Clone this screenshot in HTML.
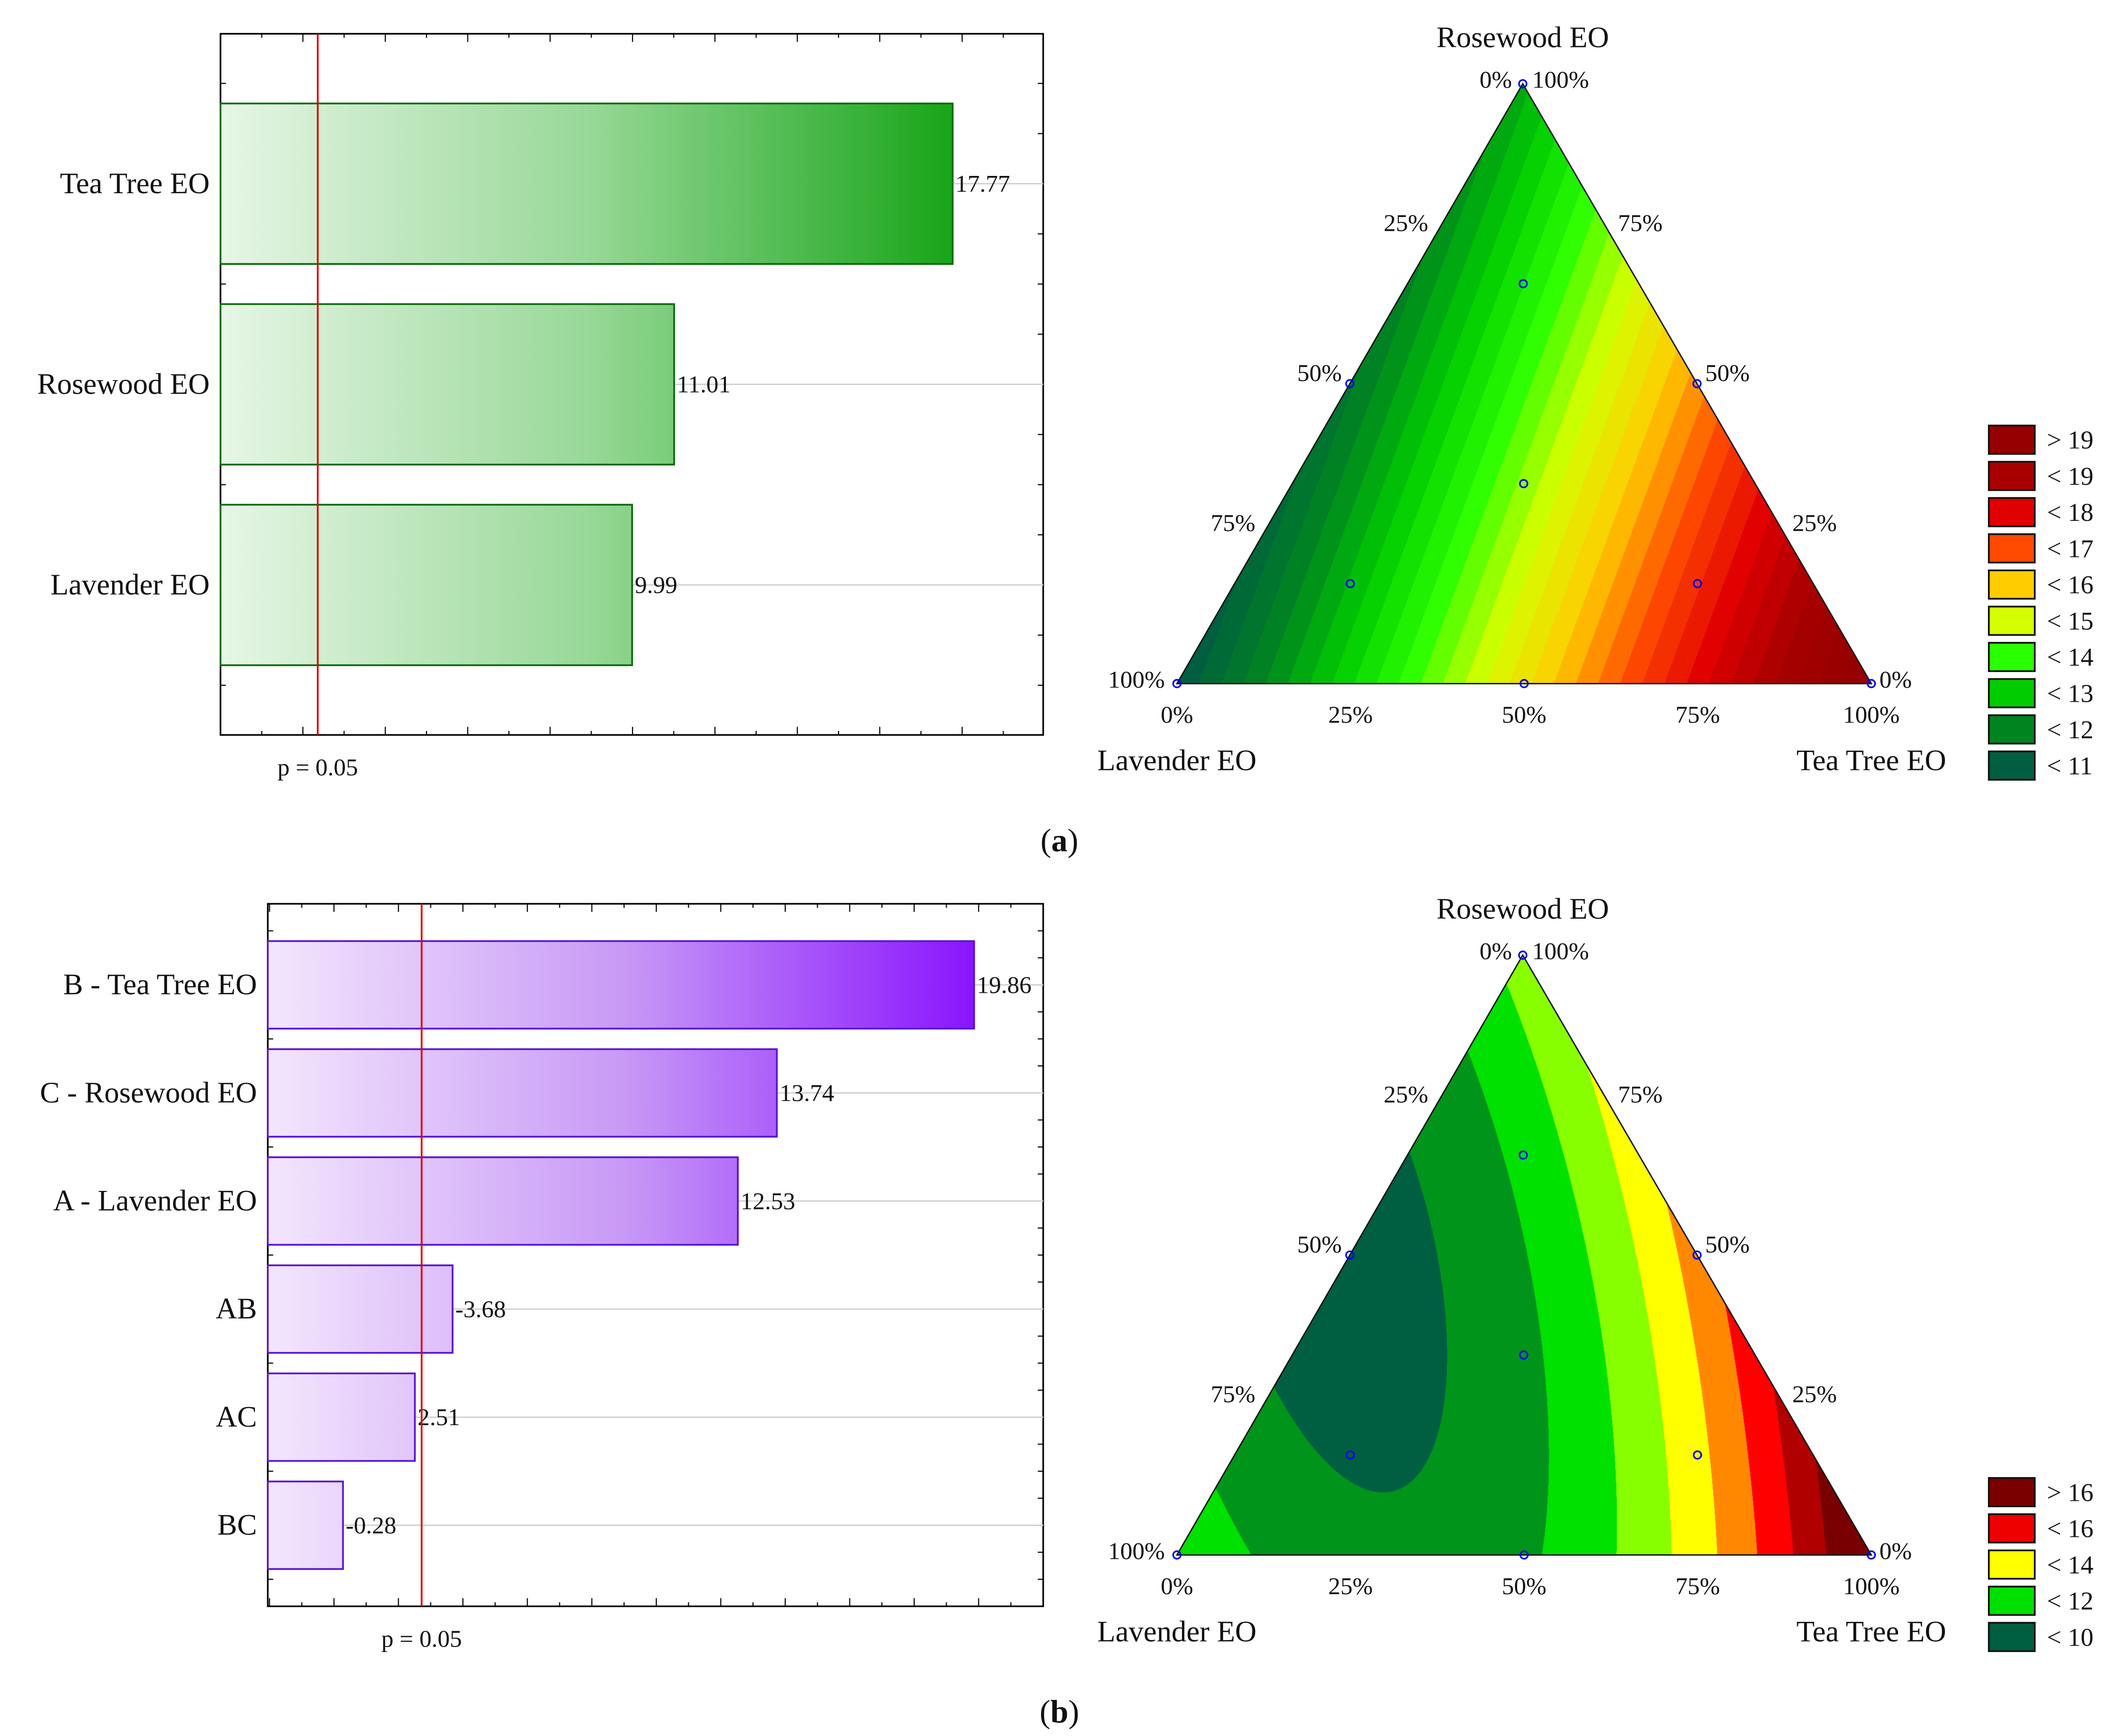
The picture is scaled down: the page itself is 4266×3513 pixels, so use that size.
<!DOCTYPE html>
<html><head><meta charset="utf-8">
<style>
html,body{margin:0;padding:0;background:#fff;}
#wrap{position:relative;width:4266px;height:3513px;overflow:hidden;}
#cv,#svg{position:absolute;left:0;top:0;}
text{font-family:"Liberation Serif",serif;fill:#111;}
</style></head>
<body>
<div id="wrap">
<canvas id="cv" width="4266" height="3513"></canvas>
<svg id="svg" width="4266" height="3513" viewBox="0 0 1560 1285" xmlns="http://www.w3.org/2000/svg">
<defs>
<linearGradient id="gA" gradientUnits="userSpaceOnUse" x1="163" y1="0" x2="705" y2="0">
<stop offset="0" stop-color="#e6f6e6"/><stop offset="0.5" stop-color="#98d898"/><stop offset="1" stop-color="#18a518"/>
</linearGradient>
<linearGradient id="gB" gradientUnits="userSpaceOnUse" x1="198" y1="0" x2="721" y2="0">
<stop offset="0" stop-color="#f3e6fd"/><stop offset="0.5" stop-color="#c89af6"/><stop offset="1" stop-color="#8a14fd"/>
</linearGradient>
</defs>
<g id="pA"></g>
<g id="pB"></g>
<g id="tA"></g>
<g id="tB"></g>
<text x="784" y="630" font-size="24" text-anchor="middle">(<tspan font-weight="bold">a</tspan>)</text>
<text x="784" y="1275" font-size="24" text-anchor="middle">(<tspan font-weight="bold">b</tspan>)</text>
</svg>
</div>
<script>
// ---- Pareto chart data ----
const catsA = ["Tea Tree EO", "Rosewood EO", "Lavender EO"];
const valsA = [17.77, 11.01, 9.99];
const critA = 2.36;
const catsB = ["B - Tea Tree EO", "C - Rosewood EO", "A - Lavender EO", "AB", "AC", "BC"];
const valsB = [19.86, 13.74, 12.53, -3.68, 2.51, -0.28];
const critB = 2.72;
// ---- Ternary model coefficients (L, T, R, LT, LR, TR) ----
const coefA = [10.5, 20.0, 12.2, 0, 0, 0];
const coefB = [12.0, 18.5, 12.5, -17.7, -10.6, -4];
const levelsA = ["< 11","< 12","< 13","< 14","< 15","< 16","< 17","< 18","< 19","> 19"];
const colorsA = ["#005f40","#008420","#00cc00","#2aff00","#d4ff00","#ffcc00","#ff4a00","#e00000","#a80000","#960000"];
const levelsB = ["< 10","< 12","< 14","< 16","> 16"];
const colorsB = ["#005f40","#00e000","#ffff00","#ee0000","#7a0000"];
const bandColorsB = ["#005f40","#00951a","#00e100","#88ff00","#ffff00","#ff8800","#ff0000","#b00000","#780000"];
const designL = [1,0,0,0.5,0.5,0,1/3,2/3,1/6,1/6];
const designT = [0,1,0,0.5,0,0.5,1/3,1/6,2/3,1/6];
const designR = [0,0,1,0,0.5,0.5,1/3,1/6,1/6,2/3];

const NS="http://www.w3.org/2000/svg";
function mk(parent,tag,attrs,txt){const e=document.createElementNS(NS,tag);for(const k in attrs)e.setAttribute(k,attrs[k]);if(txt!==undefined)e.textContent=txt;parent.appendChild(e);return e;}

function pareto(g,cats,vals,crit,o){
  const x=v=>o.x0+o.k*v;
  const n=cats.length, step=o.step, first=o.first;
  let r=mk(g,"rect",{x:o.left,y:o.top,width:o.right-o.left,height:o.bottom-o.top,fill:"none",stroke:"#000","stroke-width":1.2});
  
  
  for(let v=Math.ceil((o.left-o.x0)/o.k);x(v)<o.right;v++){
    if(x(v)<=o.left+1)continue;
    const len=(v%2===0)?6:3;
    let t=mk(g,"line",{x1:x(v),x2:x(v),y1:o.bottom,y2:o.bottom-len,stroke:"#000","stroke-width":0.8});
    
    
    let t2=mk(g,"line",{x1:x(v),x2:x(v),y1:o.top,y2:o.top+len,stroke:"#000","stroke-width":0.8});
    
    
  }
  for(let yy=first-Math.floor((first-o.top)/(step/4))*step/4; yy<o.bottom; yy+=step/4){
    if(yy<=o.top+1)continue;
    let t=mk(g,"line",{x1:o.left,x2:o.left+4,y1:yy,y2:yy,stroke:"#000","stroke-width":0.8});
    
    
    let t2=mk(g,"line",{x1:o.right,x2:o.right-4,y1:yy,y2:yy,stroke:"#000","stroke-width":0.8});
    
    
  }
  cats.forEach((c,i)=>{
    const cy=first+step*i, h=step*o.fill;
    const a=Math.abs(vals[i]);
    let gl=mk(g,"line",{x1:x(a),x2:o.right,y1:cy,y2:cy,stroke:"#cfcfcf","stroke-width":1});
    
    
    let b=mk(g,"rect",{x:o.left,y:cy-h/2,width:x(a)-o.left,height:h,fill:o.grad,stroke:o.stroke,"stroke-width":1.3});
    
    
    let vl=mk(g,"text",{x:x(a)+2,y:cy+6,"font-size":18},vals[i].toFixed(2));
    
    
    let cl=mk(g,"text",{x:o.left-8,y:cy+7,"font-size":22,"text-anchor":"end"},c);
    
    
  });
  let pl=mk(g,"line",{x1:x(crit),x2:x(crit),y1:o.top,y2:o.bottom,stroke:"#e00000","stroke-width":1.3});
  
  
  let pt=mk(g,"text",{x:x(crit),y:o.bottom+30,"font-size":18,"text-anchor":"middle"},"p = 0.05");
  
  
}
pareto(document.getElementById('pA'),catsA,valsA,critA,{left:163,right:772,top:25,bottom:544,x0:163,k:30.5,first:136,step:148.5,fill:0.8,grad:"url(#gA)",stroke:"#0a6a0a"});
pareto(document.getElementById('pB'),catsB,valsB,critB,{left:198,right:772,top:669,bottom:1189,x0:247,k:23.86,first:729,step:80,fill:0.81,grad:"url(#gB)",stroke:"#5a14d0"});

// ---- Ternary plots ----
const S=4266/1560;
const cv=document.getElementById('cv'), ctx=cv.getContext('2d');
function hex(c){return [parseInt(c.slice(1,3),16),parseInt(c.slice(3,5),16),parseInt(c.slice(5,7),16)];}
function model(co,L,T,R){return co[0]*L+co[1]*T+co[2]*R+co[3]*L*T+co[4]*L*R+co[5]*T*R;}
function colA(v){
  let p=(v-10.5); p=Math.floor(p*3.3)/3.3; p=Math.max(0,Math.min(9,p));
  const k=Math.min(8,Math.floor(p)), f=p-k, a=hex(colorsA[k]), b=hex(colorsA[k+1]);
  return [a[0]+(b[0]-a[0])*f,a[1]+(b[1]-a[1])*f,a[2]+(b[2]-a[2])*f];
}
function colB(v){let k=Math.floor(v)-9;k=Math.max(0,Math.min(8,k));return hex(bandColorsB[k]);}
function ternary(g,co,colfn,o,levels,colors,legY){
  const A=[o.lx,o.by],B=[o.rx,o.by],C=[o.tx,o.ty];
  const x0=Math.floor(A[0]*S),x1=Math.ceil(B[0]*S),y0=Math.floor(C[1]*S),y1=Math.ceil(A[1]*S);
  const w=x1-x0,h=y1-y0,img=ctx.createImageData(w,h);
  const det=(B[1]-C[1])*(A[0]-C[0])+(C[0]-B[0])*(A[1]-C[1]);
  for(let j=0;j<h;j++){const py=(y0+j+0.5)/S;
    for(let i=0;i<w;i++){const px=(x0+i+0.5)/S;
      const L=((B[1]-C[1])*(px-C[0])+(C[0]-B[0])*(py-C[1]))/det;
      const T=((C[1]-A[1])*(px-C[0])+(A[0]-C[0])*(py-C[1]))/det;
      const R=1-L-T;
      if(L<0||T<0||R<0)continue;
      const c=colfn(model(co,L,T,R)),q=(j*w+i)*4;
      img.data[q]=c[0];img.data[q+1]=c[1];img.data[q+2]=c[2];img.data[q+3]=255;}}
  ctx.putImageData(img,x0,y0);
  let tri=mk(g,"polygon",{points:[A,B,C].map(p=>p.join(',')).join(' '),fill:"none",stroke:"#111","stroke-width":1});
  
  
  const P=(L,T,R)=>[L*A[0]+T*B[0]+R*C[0],L*A[1]+T*B[1]+R*C[1]];
  designL.forEach((L,i)=>{const p=P(L,designT[i],designR[i]);
    let c=mk(g,"circle",{cx:p[0],cy:p[1],r:2.8,fill:"none",stroke:"#0000ee","stroke-width":1.2});
    
    });
  const T=(x,y,s,anchor,size,name)=>{let t=mk(g,"text",{x:x,y:y,"font-size":size,"text-anchor":anchor},s);
    
    };
  const tx=o.tx, ty=o.ty, by=o.by;
  T(tx,ty-27,"Rosewood EO","middle",22,"axis-title-rosewood");
  T(tx-8,ty+3,"0%","end",18,"tick-label");
  T(tx+7,ty+3,"100%","start",18,"tick-label");
  const lt=[[0.25,"25%"],[0.5,"50%"],[0.75,"75%"]];
  lt.forEach(([f,s])=>{const pl=P(f,0,1-f);T(pl[0]-6,pl[1]-2,s,"end",18,"tick-label-left");
    const pr=P(0,1-f,f);T(pr[0]+6,pr[1]-2,s,"start",18,"tick-label-right");});
  T(o.lx-9,by+3,"100%","end",18,"tick-label");
  T(o.rx+6,by+3,"0%","start",18,"tick-label");
  [0,0.25,0.5,0.75,1].forEach(f=>{T(o.lx+f*(o.rx-o.lx),by+29,Math.round(f*100)+"%","middle",18,"tick-label-bottom");});
  T(o.lx,by+64,"Lavender EO","middle",22,"axis-title-lavender");
  T(o.rx,by+64,"Tea Tree EO","middle",22,"axis-title-tea-tree");
  for(let i=0;i<levels.length;i++){
    const idx=levels.length-1-i, yy=legY+i*26.8;
    let r=mk(g,"rect",{x:1472,y:yy,width:34,height:21,fill:colors[idx],stroke:"#111","stroke-width":1.3});
    
    
    T(1515,yy+17,levels[idx],"start",19,"legend-label");
  }
}
ternary(document.getElementById('tA'),coefA,colA,{lx:871,rx:1385,by:506,tx:1127,ty:62},levelsA,colorsA,315);
ternary(document.getElementById('tB'),coefB,colB,{lx:871,rx:1385,by:1151,tx:1127,ty:707},levelsB,colorsB,1094);
</script>
</body></html>
